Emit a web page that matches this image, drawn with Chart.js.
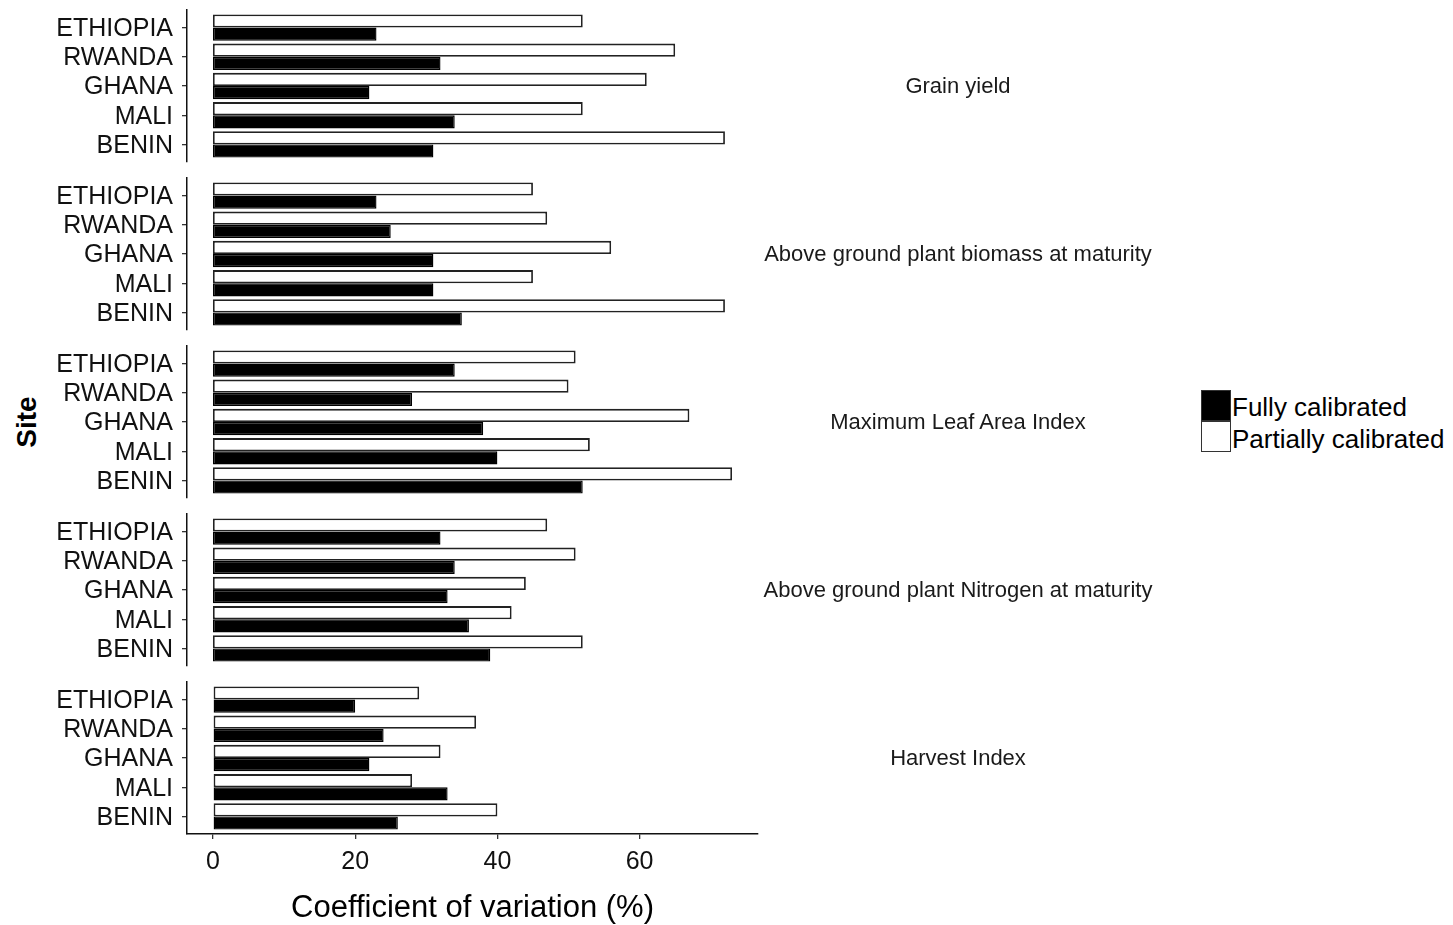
<!DOCTYPE html>
<html>
<head>
<meta charset="utf-8">
<script src="https://cdn.jsdelivr.net/npm/chart.js@4.4.0/dist/chart.umd.min.js"></script>
<style>
  body { margin: 0; background: #fff; }
  #wrap { position: relative; width: 1453px; height: 925px; overflow: hidden;
          font-family: 'Liberation Sans', Arial, sans-serif; color: #000; }
  #wrap canvas { position: absolute; left: 0; }
  .strip { position: absolute; left: 758px; width: 400px; text-align: center; font-size: 22px;
           color: #1a1a1a; transform: translateY(-50%); white-space: nowrap; line-height: 1; }
  .key { position: absolute; left: 1201px; width: 30px; height: 31px; box-sizing: border-box;
         border: 1.5px solid #333; }
  .ktext { position: absolute; left: 1232px; font-size: 26px; line-height: 1; transform: translateY(-50%);
           white-space: nowrap; }
  #site { position: absolute; left: 27px; top: 422px; font-size: 28px; font-weight: bold;
          transform: translate(-50%, -50%) rotate(-90deg); line-height: 1; }
</style>
</head>
<body>
<div id="wrap">
  <div id="site">Site</div>
  <div class="key" style="top:390px;background:#000"></div>
  <div class="key" style="top:421px;background:#fff"></div>
  <div class="ktext" style="top:407px">Fully calibrated</div>
  <div class="ktext" style="top:439px">Partially calibrated</div>
</div>
<script>
const sites = ['ETHIOPIA', 'RWANDA', 'GHANA', 'MALI', 'BENIN'];
const traits = ['Grain yield', 'Above ground plant biomass at maturity', 'Maximum Leaf Area Index',
                'Above ground plant Nitrogen at maturity', 'Harvest Index'];
const xTicks = [0, 20, 40, 60];

// coefficient of variation (%), one row per trait, sites in order above
const grainFull       = [23, 32, 22, 34, 31];
const grainPartial    = [52, 65, 61, 52, 72];
const biomassFull     = [23, 25, 31, 31, 35];
const biomassPartial  = [45, 47, 56, 45, 72];
const laiFull         = [34, 28, 38, 40, 52];
const laiPartial      = [51, 50, 67, 53, 73];
const nitrogenFull    = [32, 34, 33, 36, 39];
const nitrogenPartial = [47, 51, 44, 42, 52];
const hiFull          = [20, 24, 22, 33, 26];
const hiPartial       = [29, 37, 32, 28, 40];

const fullRows = [grainFull, biomassFull, laiFull, nitrogenFull, hiFull];
const partialRows = [grainPartial, biomassPartial, laiPartial, nitrogenPartial, hiPartial];

const FONT = "'Liberation Sans', Arial, sans-serif";
const wrap = document.getElementById('wrap');
const step = 168, plotH = 152, pad = 10;

function toPoints(row) {
  return row.map((v, i) => ({ x: v, y: i + 1 }));
}

traits.forEach((trait, k) => {
  const last = k === traits.length - 1;
  const canvas = document.createElement('canvas');
  canvas.width = 780;
  canvas.height = last ? 925 - step * k : plotH + 2 * pad;
  canvas.style.top = (step * k) + 'px';
  wrap.appendChild(canvas);

  const strip = document.createElement('div');
  strip.className = 'strip';
  strip.style.top = (step * k + pad + plotH / 2) + 'px';
  strip.textContent = trait;
  wrap.appendChild(strip);

  new Chart(canvas, {
    type: 'bar',
    data: {
      datasets: [
        { label: 'Partially calibrated', data: toPoints(partialRows[k]),
          backgroundColor: '#fff', borderColor: '#222', borderWidth: 1.8, borderSkipped: false },
        { label: 'Fully calibrated', data: toPoints(fullRows[k]),
          backgroundColor: '#000', borderColor: '#000', borderWidth: 1.4, borderSkipped: false }
      ]
    },
    options: {
      indexAxis: 'y',
      responsive: false,
      animation: false,
      categoryPercentage: 0.9,
      barPercentage: 1,
      layout: { padding: { top: pad, bottom: last ? 0 : pad, left: 0, right: 22 } },
      plugins: { legend: { display: false }, tooltip: { enabled: false } },
      scales: {
        y: {
          type: 'linear', reverse: true, min: 0.4, max: 5.6, offset: false,
          afterBuildTicks: s => { s.ticks = sites.map((_, i) => ({ value: i + 1 })); },
          // fixed axis width; labels sit well inside the range, so no edge padding
          afterFit: s => { s.width = 187; s.paddingTop = 0; s.paddingBottom = 0; },
          ticks: { autoSkip: false, callback: v => sites[v - 1], color: '#111', padding: 9,
                   labelOffset: 1.5, font: { family: FONT, size: 25 } },
          grid: { offset: false, drawOnChartArea: false, tickLength: 5, color: '#333', lineWidth: 1.3 },
          border: { color: '#111', width: 1.5 }
        },
        x: {
          type: 'linear', min: -3.65, max: 76.65, display: last,
          afterBuildTicks: s => { s.ticks = xTicks.map(v => ({ value: v })); },
          afterFit: s => { if (last) s.height = 91; },
          ticks: { color: '#111', padding: 8, font: { family: FONT, size: 25 } },
          grid: { drawOnChartArea: false, tickLength: 5, color: '#333', lineWidth: 1.3 },
          border: { color: '#111', width: 1.5 },
          title: { display: true, text: 'Coefficient of variation (%)', color: '#000',
                   padding: { top: 0, bottom: -2 }, font: { family: FONT, size: 31 } }
        }
      }
    }
  });
});
</script>
</body>
</html>
